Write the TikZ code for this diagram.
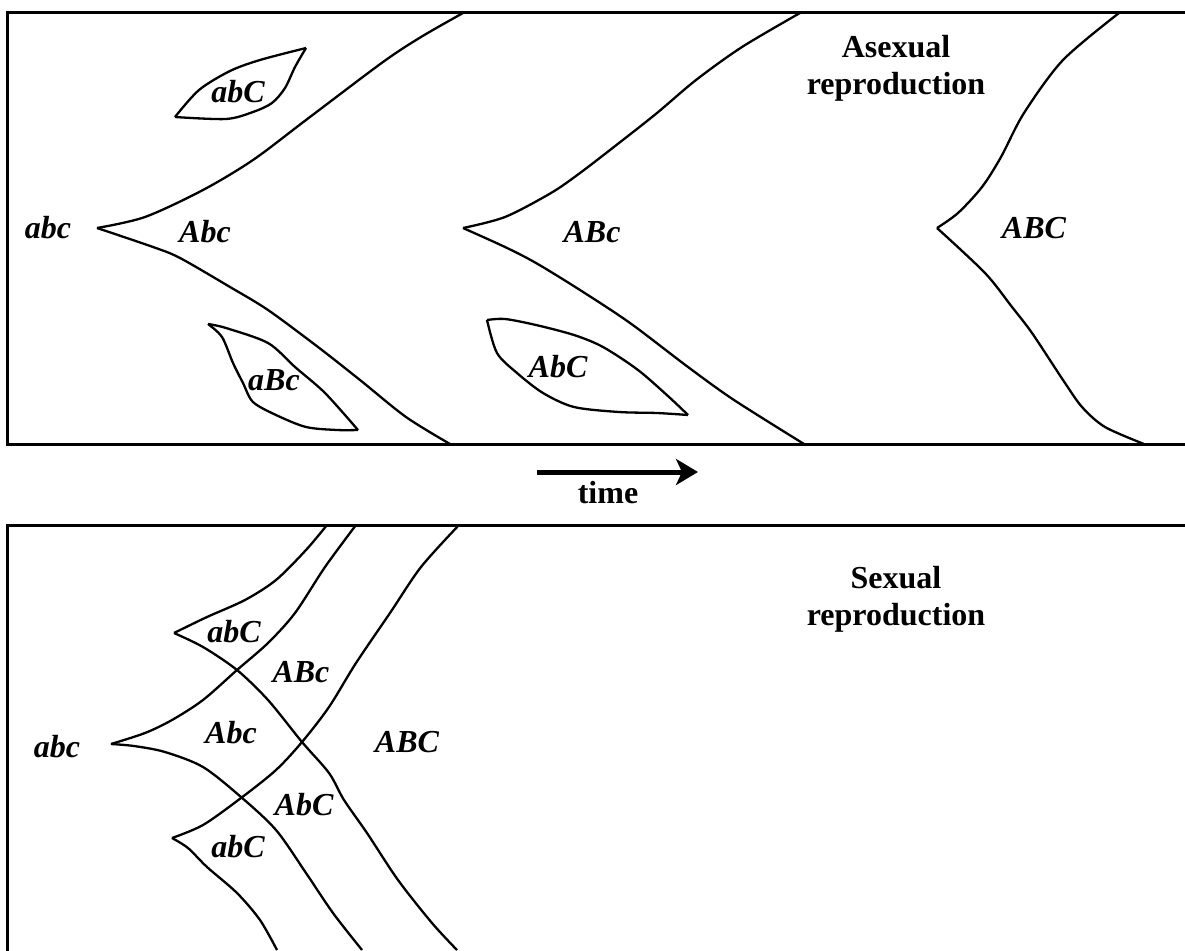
\documentclass[tikz,border=0pt]{standalone}
\usepackage{fontspec}
\setmainfont{Liberation Serif}
\usetikzlibrary{arrows.meta}
\tikzset{
  frameline/.style={line width=3pt, line cap=rect},
  branch/.style={line width=2.3pt, line join=round},
  geno/.style={font=\fontsize{32}{32}\selectfont\bfseries\itshape, inner sep=0pt},
  paneltitle/.style={font=\fontsize{32}{37}\selectfont\bfseries, align=center, inner sep=0pt},
  timearrow/.style={-{Stealth[length=22pt, width=26pt, inset=6pt]}, line width=5pt}
}

\begin{document}
\begin{tikzpicture}[x=1pt, y=-1pt]
  \useasboundingbox (0,0) rectangle (1185,950);

  % asexual panel
  \draw[frameline] (1185,13) -- (7,13) -- (7,444) -- (1185,444);
  \coordinate (acusp1) at (97,228);
  \coordinate (acusp2) at (463,228);
  \coordinate (acusp3) at (937,228);
  \draw[branch] plot[smooth] coordinates {(97,228) (145,217) (203,190) (253,160) (306,120) (383,62) (421,37) (463,13)};
  \draw[branch] plot[smooth] coordinates {(97,228) (153,247) (180,258) (230,287) (268,310) (318,347) (360,380) (406,417) (450,444)};
  \draw[branch] plot[smooth] coordinates {(463,228) (505,217) (551,193) (580,173) (619,143) (657,113) (696,80) (742,47) (800,13)};
  \draw[branch] plot[smooth] coordinates {(463,228) (505,247) (536,263) (580,290) (630,323) (688,367) (734,400) (804,444)};
  \draw[branch] plot[smooth] coordinates {(937,228) (958,213) (982,187) (1001,157) (1024,113) (1063,60) (1119,13)};
  \draw[branch] plot[smooth] coordinates {(937,228) (985,273) (1012,307) (1032,333) (1063,380) (1082,407) (1105,427) (1144,444)};
  % clones
  \draw[branch] plot[smooth] coordinates {(175,117) (199,90) (230,71) (260,60) (306,48)};
  \draw[branch] plot[smooth] coordinates {(306,48) (295,67) (285,88) (272,103) (253,112) (226,119) (175,117)};
  \draw[branch] plot[smooth] coordinates {(208,324) (226,328) (268,343) (295,367) (325,393) (358,430)};
  \draw[branch] plot[smooth] coordinates {(358,430) (337,430) (306,427) (276,415) (253,402) (243,383) (233,363) (222,337) (208,324)};
  \draw[branch] plot[smooth] coordinates {(487,320) (505,319) (536,325) (574,335) (603,347) (638,370) (669,397) (688,415)};
  \draw[branch] plot[smooth] coordinates {(688,415) (657,413) (619,412) (574,407) (543,393) (517,373) (497,353) (487,320)};

  \node[geno] (aabc) at (48,228) {abc};
  \node[geno] (aAbc) at (205,232) {Abc};
  \node[geno] (aabC) at (238,92) {abC};
  \node[geno] (aaBc) at (274,380) {aBc};
  \node[geno] (aABc) at (592,232) {ABc};
  \node[geno] (aAbC) at (558,367) {AbC};
  \node[geno] (aABC) at (1034,228) {ABC};
  \node[paneltitle] (atitle) at (896,68) {Asexual\\reproduction};

  % time
  \coordinate (tstart) at (537,472);
  \coordinate (tend) at (698,472);
  \draw[timearrow] (tstart) -- (tend);
  \node[paneltitle] (tlabel) at (608,493) {time};

  % sexual panel
  \draw[frameline] (1185,525) -- (7,525) -- (7,950);
  \coordinate (scusp) at (111,744);
  \coordinate (sup) at (174,633);
  \coordinate (slow) at (172,838);
  \draw[branch] plot[smooth] coordinates {(111,744) (145,733) (172,720) (203,700) (237,670) (268,643) (295,613) (325,567) (356,525)};
  \draw[branch] plot[smooth] coordinates {(111,744) (134,746) (165,752) (203,767) (241,797) (276,830) (306,873) (333,913) (362,950)};
  \draw[branch] plot[smooth] coordinates {(174,633) (207,617) (245,600) (276,580) (306,550) (327,525)};
  \draw[branch] plot[smooth] coordinates {(174,633) (203,647) (237,670) (268,700) (302,742) (329,773) (344,800) (367,833) (398,880) (432,923) (457,950)};
  \draw[branch] plot[smooth] coordinates {(172,838) (188,848) (207,867) (237,893) (260,920) (277,950)};
  \draw[branch] plot[smooth] coordinates {(172,838) (203,825) (241,798) (276,770) (302,742) (329,707) (356,663) (390,613) (421,567) (459,525)};

  \node[geno] (sabc) at (57,747) {abc};
  \node[geno] (sabC1) at (234,632) {abC};
  \node[geno] (sABc) at (301,672) {ABc};
  \node[geno] (sAbc) at (231,733) {Abc};
  \node[geno] (sABC) at (407,742) {ABC};
  \node[geno] (sAbC) at (304,805) {AbC};
  \node[geno] (sabC2) at (238,847) {abC};
  \node[paneltitle] (stitle) at (896,599) {Sexual\\reproduction};
\end{tikzpicture}
\end{document}
